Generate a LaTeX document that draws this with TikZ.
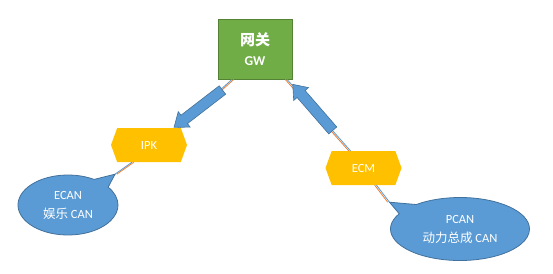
\documentclass[tikz,border=0pt]{standalone}
\usepackage{fontspec}
\setmainfont{Carlito}
\newfontfamily\cjk{Noto Sans CJK SC}
\usetikzlibrary{shapes.geometric, shapes.symbols, shapes.arrows, shapes.callouts, calc}
\definecolor{gwgreen}{RGB}{112,173,71}
\definecolor{gwframe}{RGB}{84,130,53}
\definecolor{ecuyellow}{RGB}{255,192,0}
\definecolor{canblue}{RGB}{91,155,213}
\definecolor{canframe}{RGB}{65,113,156}
\definecolor{wireorange}{RGB}{237,125,49}
\tikzset{
  gwbox/.style={rectangle, draw=gwframe, fill=gwgreen, line width=0.8pt,
    minimum width=74pt, minimum height=60pt, align=center,
    text=white, font=\bfseries\fontsize{13.5}{20}\selectfont},
  ecu/.style={signal, signal to=east and west, signal pointer angle=140,
    fill=ecuyellow, draw=none, minimum width=76pt, minimum height=34pt,
    text=white, font=\fontsize{12.5}{14}\selectfont},
  canbus/.style={ellipse callout, fill=canblue, draw=canframe, line width=0.8pt,
    callout pointer arc=22, align=center, text=white,
    font=\fontsize{12.5}{19}\selectfont},
  wire/.style={draw=canblue, line width=0.8pt,
    postaction={draw=wireorange, line width=0.8pt, transform canvas={xshift=#1}}},
  flow/.style={single arrow, fill=canblue, draw=canframe, line width=0.6pt,
    minimum height=61pt, minimum width=19pt, inner xsep=0pt, inner ysep=5pt,
    single arrow head extend=4.5pt, single arrow tip angle=75}
}
\begin{document}
\begin{tikzpicture}[x=1pt, y=-1pt]
  \useasboundingbox[fill=white] (0,0) rectangle (553,273);
  % gateway and ECUs
  \node[gwbox] (gw) at (255,49) {{\cjk\fontsize{15}{20}\selectfont 网关}\\GW};
  \node[ecu] (ipk) at (149,145) {IPK};
  \node[ecu] (ecm) at (363.5,168) {ECM};
  % callout tips
  \coordinate (ecantip) at ($(ipk.south)+(-34,12)$);
  \coordinate (pcantip) at ($(ecm.south)+(26,17)$);
  % wires
  \draw[wire=1.8pt] ($(gw.south)+(-23,0)$) -- ($(ipk.north)+(29,0)$);
  \draw[wire=1.8pt] ($(ipk.south)+(-17,0)$) -- (ecantip);
  \draw[wire=-1.8pt] ($(gw.south)+(32,0)$) -- ($(ecm.north)+(-13,0)$);
  \draw[wire=-1.8pt] ($(ecm.south)+(13,0)$) -- (pcantip);
  % buses
  \node[canbus, minimum width=100pt, minimum height=60pt,
    callout absolute pointer={(ecantip)}] (ecan) at (68,205) {ECAN\\{\cjk 娱乐} CAN};
  \node[canbus, minimum width=139pt, minimum height=63pt,
    callout absolute pointer={(pcantip)}] (pcan) at (460,229) {PCAN\\{\cjk 动力总成} CAN};
  % data flow
  \node[flow, rotate=217.6] (down) at (201,106.5) {};
  \node[flow, rotate=131] (up) at (315,110) {};
\end{tikzpicture}
\end{document}
